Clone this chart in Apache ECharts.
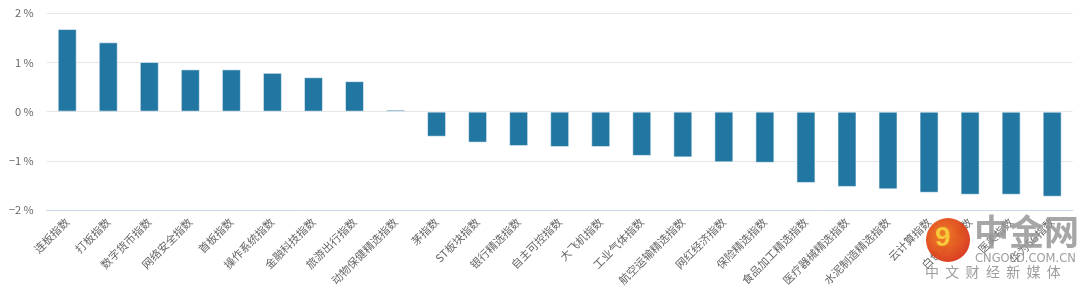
<!DOCTYPE html>
<html><head><meta charset="utf-8">
<script src="https://cdn.jsdelivr.net/npm/echarts@6/dist/echarts.min.js"></script>
<style>html,body{margin:0;padding:0;background:#fff}#c{width:1080px;height:290px}</style>
</head><body><div id="c"></div>
<script>
const categories = ['连板指数','打板指数','数字货币指数','网络安全指数','首板指数','操作系统指数','金融科技指数','旅游出行指数','动物保健精选指数','茅指数','ST板块指数','银行精选指数','自主可控指数','大飞机指数','工业气体指数','航空运输精选指数','网红经济指数','保险精选指数','食品加工精选指数','医疗器械精选指数','水泥制造精选指数','云计算指数','白色家电指数','医美指数','华为5G指数'];
const values = [1.68,1.41,1.01,0.86,0.86,0.79,0.70,0.62,0.04,-0.51,-0.63,-0.70,-0.72,-0.72,-0.90,-0.93,-1.03,-1.04,-1.45,-1.53,-1.58,-1.65,-1.69,-1.69,-1.73];
const yTicks = [-2,-1,0,1,2];
const sloganChars = ['中','文','财','经','新','媒','体'];

const chart = echarts.init(document.getElementById('c'), null, {renderer:'canvas'});
const font = '"Noto Sans CJK SC","Noto Sans",sans-serif';
const graphics = [
  {type:'circle',shape:{cx:948,cy:240,r:22},style:{fill:new echarts.graphic.RadialGradient(0.4,0.4,0.7,[{offset:0,color:'#f07a1a'},{offset:1,color:'#d42c18'}]),opacity:0.95},z:100},
  {type:'text',left:935,top:224,style:{text:'9',fill:'#f7c93a',font:'bold 28px sans-serif'},z:101},
  {type:'text',left:974,top:214,style:{text:'中金网',fill:'rgba(150,150,150,0.85)',font:'bold 35px "Noto Sans CJK SC"'},z:100},
  {type:'text',left:975,top:253,style:{text:'CNGOLD.COM.CN',fill:'rgba(140,140,140,0.85)',font:'11.5px "DejaVu Sans"'},z:100}
];
sloganChars.forEach((ch,i)=>graphics.push({type:'text',left:925+i*20.3,top:265,style:{text:ch,fill:'rgba(140,140,140,0.85)',font:'14px "Noto Sans CJK SC"'},z:100}));
chart.setOption({
  animation:false,
  grid:{left:46.7,right:7.3,top:13.3,bottom:80,containLabel:false},
  xAxis:{type:'category',data:categories,
    axisLine:{onZero:false,lineStyle:{color:'#ccd6eb'}},
    axisTick:{length:8,lineStyle:{color:'#ccd6eb'}},
    axisLabel:{rotate:45,color:'#666',fontSize:11,fontFamily:font,margin:10,interval:0}},
  yAxis:{type:'value',min:yTicks[0],max:yTicks[yTicks.length-1],interval:1,
    axisLabel:{color:'#666',fontSize:11,fontFamily:font,margin:13,
      formatter:v=>(v<0?'\u2212'+Math.abs(v):v)+' %'},
    splitLine:{lineStyle:{color:'#e6e6e6'}},axisLine:{show:false},axisTick:{show:false}},
  series:[{type:'bar',data:values,barWidth:19,
    itemStyle:{color:'#2176a2',borderColor:'rgba(255,255,255,0.55)',borderWidth:1}}],
  graphic:graphics
});
</script></body></html>
